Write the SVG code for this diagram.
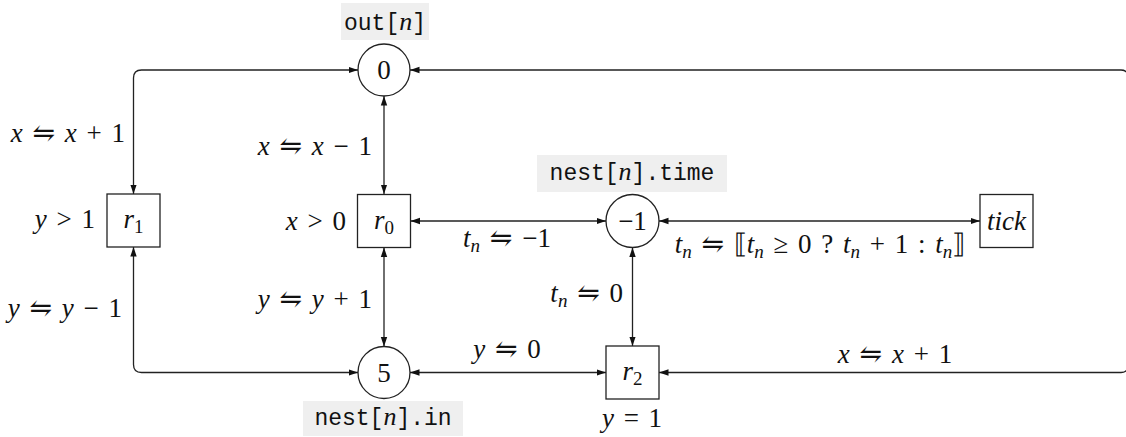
<svg xmlns="http://www.w3.org/2000/svg" width="1126" height="437" viewBox="0 0 1126 437">
<defs>
<marker id="ah" markerWidth="10" markerHeight="8" refX="9.5" refY="4" orient="auto-start-reverse" markerUnits="userSpaceOnUse">
<path d="M0,0.8 L9.5,4 L0,7.2 z" fill="#111"/>
</marker>
</defs>
<style>
.bg{fill:#ffffff}
.place{fill:#fff;stroke:#222;stroke-width:1.3}
.trans{fill:#fff;stroke:#222;stroke-width:1.3}
.conn{fill:none;stroke:#222;stroke-width:1.3;marker-start:url(#ah);marker-end:url(#ah)}
.m{font-family:"Liberation Serif","DejaVu Serif",serif;font-size:27px;fill:#111;word-spacing:3px}
.i{font-style:italic}
.s{font-size:19px}
.tt{font-family:"Liberation Mono","DejaVu Sans Mono",monospace;font-size:23px;fill:#111}
.lb{fill:#efefef}
</style>
<rect class="bg" x="0" y="0" width="1126" height="437"/>

<g id="connectors">
<path class="conn" d="M133.5,194 L133.5,78 Q133.5,70 141.5,70 L358,70"/>
<path class="conn" d="M133.5,247 L133.5,364.5 Q133.5,372.5 141.5,372.5 L358,372.5"/>
<path class="conn" d="M384,96 L384,194"/>
<path class="conn" d="M384,247.5 L384,346.5"/>
<path class="conn" d="M410.5,221 L606,221"/>
<path class="conn" d="M659,221 L980,221"/>
<path class="conn" d="M632.5,247.5 L632.5,346"/>
<path class="conn" d="M410,372.5 L606,372.5"/>
<path class="conn" d="M410,70 L1121,70 Q1128,70 1128,77 L1128,365.5 Q1128,372.5 1121,372.5 L659,372.5"/>
</g>

<g id="edge-labels">
<text class="m" x="125" y="142" text-anchor="end"><tspan class="i">x</tspan> ⇋ <tspan class="i">x</tspan> + 1</text>
<text class="m" x="122" y="317" text-anchor="end"><tspan class="i">y</tspan> ⇋ <tspan class="i">y</tspan> − 1</text>
<text class="m" x="372" y="155" text-anchor="end"><tspan class="i">x</tspan> ⇋ <tspan class="i">x</tspan> − 1</text>
<text class="m" x="372" y="308" text-anchor="end"><tspan class="i">y</tspan> ⇋ <tspan class="i">y</tspan> + 1</text>
<text class="m" x="507" y="247" text-anchor="middle"><tspan class="i">t</tspan><tspan class="i s" dy="5">n</tspan><tspan dy="-5"> ⇋ −1</tspan></text>
<text class="m" x="623" y="302" text-anchor="end"><tspan class="i">t</tspan><tspan class="i s" dy="5">n</tspan><tspan dy="-5"> ⇋ 0</tspan></text>
<text class="m" x="820" y="253" text-anchor="middle"><tspan class="i">t</tspan><tspan class="i s" dy="5">n</tspan><tspan dy="-5"> ⇋ ⟦</tspan><tspan class="i">t</tspan><tspan class="i s" dy="5">n</tspan><tspan dy="-5"> ≥ 0 ? </tspan><tspan class="i">t</tspan><tspan class="i s" dy="5">n</tspan><tspan dy="-5"> + 1 : </tspan><tspan class="i">t</tspan><tspan class="i s" dy="5">n</tspan><tspan dy="-5">⟧</tspan></text>
<text class="m" x="507" y="358" text-anchor="middle"><tspan class="i">y</tspan> ⇋ 0</text>
<text class="m" x="895" y="363" text-anchor="middle"><tspan class="i">x</tspan> ⇋ <tspan class="i">x</tspan> + 1</text>
</g>

<g id="place-out">
<rect class="lb" x="341" y="3" width="88" height="37"/>
<text class="tt" x="385" y="30" text-anchor="middle">out[<tspan class="i" font-family="Liberation Serif, serif" font-size="26">n</tspan>]</text>
<circle class="place" cx="384" cy="70" r="26"/>
<text class="m" x="384" y="79" text-anchor="middle">0</text>
</g>

<g id="place-time">
<rect class="lb" x="537" y="155" width="190" height="37"/>
<text class="tt" x="632" y="180" text-anchor="middle">nest[<tspan class="i" font-family="Liberation Serif, serif" font-size="26">n</tspan>].time</text>
<circle class="place" cx="632.5" cy="221" r="26.5"/>
<text class="m" x="632.5" y="230" text-anchor="middle">−1</text>
</g>

<g id="place-in">
<rect class="lb" x="303" y="401" width="160" height="35"/>
<text class="tt" x="383" y="425" text-anchor="middle">nest[<tspan class="i" font-family="Liberation Serif, serif" font-size="26">n</tspan>].in</text>
<circle class="place" cx="384" cy="372.5" r="26"/>
<text class="m" x="384" y="381.5" text-anchor="middle">5</text>
</g>

<g id="trans-r1">
<rect class="trans" x="107" y="194" width="53" height="53"/>
<text class="m" x="133.5" y="228" text-anchor="middle"><tspan class="i">r</tspan><tspan class="s" dy="5">1</tspan></text>
<text class="m" x="95" y="228" text-anchor="end"><tspan class="i">y</tspan> &gt; 1</text>
</g>

<g id="trans-r0">
<rect class="trans" x="357.5" y="194.5" width="53" height="53"/>
<text class="m" x="384" y="228.5" text-anchor="middle"><tspan class="i">r</tspan><tspan class="s" dy="5">0</tspan></text>
<text class="m" x="346" y="230" text-anchor="end"><tspan class="i">x</tspan> &gt; 0</text>
</g>

<g id="trans-tick">
<rect class="trans" x="980" y="194.5" width="53" height="53"/>
<text class="m i" x="1006.5" y="230" text-anchor="middle">tick</text>
</g>

<g id="trans-r2">
<rect class="trans" x="606" y="346" width="53" height="53"/>
<text class="m" x="632.5" y="380" text-anchor="middle"><tspan class="i">r</tspan><tspan class="s" dy="5">2</tspan></text>
<text class="m" x="632" y="427" text-anchor="middle"><tspan class="i">y</tspan> = 1</text>
</g>
</svg>
